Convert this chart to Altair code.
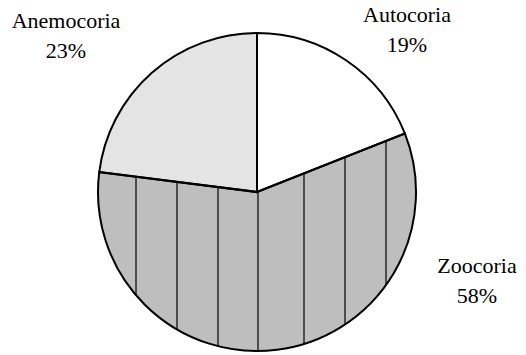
import altair as alt
import pandas as pd
import numpy as np

# ---- data ----
categories = ["Autocoria", "Zoocoria", "Anemocoria"]
values = [19, 58, 23]

# ---- style / layout ----
W, H = 526, 355
CX, CY, R = 257, 192, 159
fills = ["#ffffff", "#bebebe", "#e4e4e4"]
label_pos = {"Autocoria": (407, 21.7), "Zoocoria": (477, 273.3), "Anemocoria": (66, 28.3)}
hatch_offsets = [-121, -80, -39, 1, 47, 88, 129]  # hatch pattern spacing (px from centre)
FONT = "Liberation Serif, DejaVu Serif"
FS = 22

df = pd.DataFrame({"cat": categories, "value": values, "idx": range(len(categories))})
df["lx"] = [label_pos[c][0] for c in categories]
df["ly"] = [label_pos[c][1] for c in categories]
df["ly2"] = df["ly"] + 30
df["pct"] = [f"{v}%" for v in values]

# hatch lines inside the Zoocoria slice (geometry derived from the data)
total = sum(values)
start = sum(values[:1]) / total * 2 * np.pi
end = sum(values[:2]) / total * 2 * np.pi
rows = []
for dx in hatch_offsets:
    bottom = CY + np.sqrt(R**2 - dx**2)
    if dx >= 0:
        up = dx * np.cos(start) / np.sin(start)
    else:
        up = dx * np.cos(end) / np.sin(end)
    rows.append({"x": CX + dx, "y1": CY - up, "y2": bottom})
hatch = pd.DataFrame(rows)

xs = alt.Scale(domain=[0, W], nice=False, zero=False)
ys = alt.Scale(domain=[0, H], nice=False, zero=False, reverse=True)

base = alt.Chart(df)

fill_arc = base.mark_arc(outerRadius=R, strokeWidth=0).encode(
    theta=alt.Theta("value:Q", stack=True),
    order=alt.Order("idx:Q"),
    color=alt.Color("cat:N", scale=alt.Scale(domain=categories, range=fills), legend=None),
    x=alt.value(CX), y=alt.value(CY),
)

hatch_rules = alt.Chart(hatch).mark_rule(color="black", strokeWidth=1.2).encode(
    x=alt.X("x:Q", scale=xs, axis=None),
    y=alt.Y("y1:Q", scale=ys, axis=None),
    y2="y2:Q",
)

edge_arc = base.mark_arc(outerRadius=R, stroke="black", strokeWidth=2, fillOpacity=0).encode(
    theta=alt.Theta("value:Q", stack=True),
    order=alt.Order("idx:Q"),
    x=alt.value(CX), y=alt.value(CY),
)

name_text = base.mark_text(
    font=FONT, fontSize=FS, align="center", baseline="alphabetic", color="black",
).encode(
    x=alt.X("lx:Q", scale=xs, axis=None),
    y=alt.Y("ly:Q", scale=ys, axis=None),
    text="cat:N",
)

pct_text = base.mark_text(
    font=FONT, fontSize=FS, align="center", baseline="alphabetic", color="black",
).encode(
    x=alt.X("lx:Q", scale=xs, axis=None),
    y=alt.Y("ly2:Q", scale=ys, axis=None),
    text="pct:N",
)

chart = alt.layer(fill_arc, hatch_rules, edge_arc, name_text, pct_text).properties(
    width=W, height=H, padding=0, autosize=alt.AutoSizeParams(type="none"),
    background="white",
).configure_view(stroke=None)

chart.save("out.html", embed_options={"renderer": "svg", "actions": False})
